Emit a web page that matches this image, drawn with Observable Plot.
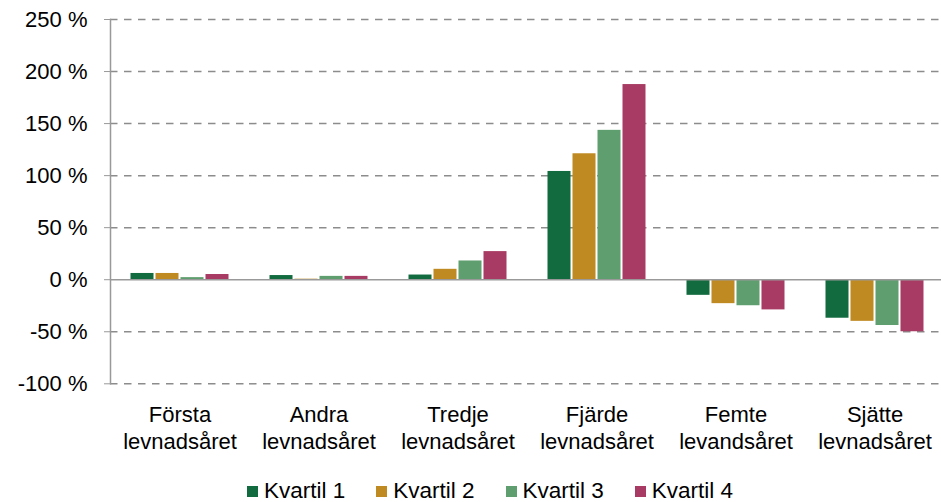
<!DOCTYPE html>
<html>
<head>
<meta charset="utf-8">
<script src="https://cdn.jsdelivr.net/npm/d3@7"></script>
<script src="https://cdn.jsdelivr.net/npm/@observablehq/plot@0.6"></script>
<style>
  html, body { margin: 0; padding: 0; background: #fff; overflow: hidden; }
  body { position: relative; width: 941px; height: 502px; font-family: "Liberation Sans", Arial, sans-serif; }
  #chart svg { display: block; }
  #legend { position: absolute; left: 247px; top: 480px; display: flex; align-items: center; height: 22px; line-height: 22px; font-size: 22.5px; color: #000; white-space: nowrap; }
  .item { display: flex; align-items: center; margin-right: 31px; }
  .sw { width: 11px; height: 11px; margin-right: 6px; }
</style>
</head>
<body>
<div id="chart"></div>
<div id="legend"></div>
<script>
const categories = ["Första\nlevnadsåret", "Andra\nlevnadsåret", "Tredje\nlevnadsåret", "Fjärde\nlevnadsåret", "Femte\nlevandsåret", "Sjätte\nlevnadsåret"];
const quartiles = ["Kvartil 1", "Kvartil 2", "Kvartil 3", "Kvartil 4"];
const kvartil1 = [6, 4, 4.5, 104, -15, -37];
const kvartil2 = [6, 0.5, 10, 121, -23, -40];
const kvartil3 = [2, 3.2, 18, 143.5, -25, -44];
const kvartil4 = [5, 3.2, 27, 187.5, -29, -50];
const yTicks = [-100, -50, 0, 50, 100, 150, 200, 250];
const colors = ["#126b3f", "#c08a23", "#5f9e6e", "#a83b63"];

const series = [kvartil1, kvartil2, kvartil3, kvartil4];
const data = [];
categories.forEach((c, i) => {
  quartiles.forEach((q, j) => data.push({cat: c, q, value: series[j][i]}));
});

const plot = Plot.plot({
  width: 941,
  height: 478,
  marginTop: 19,
  marginBottom: 94.7,
  marginLeft: 107.5,
  marginRight: -6,
  style: {fontFamily: "'Liberation Sans', Arial, sans-serif", fontSize: "22px", color: "#000", background: "#fff"},
  fx: {domain: categories, padding: 0, label: null},
  x: {domain: quartiles, paddingInner: 0.1, paddingOuter: 0.78, axis: null},
  y: {domain: [-100, 250], label: null},
  color: {domain: quartiles, range: colors},
  marks: [
    Plot.gridY(yTicks.filter(d => d !== 0), {stroke: "#8c8c8c", strokeOpacity: 1, strokeWidth: 1.5, strokeDasharray: "7.5,6.5"}),
    Plot.barY(data, {fx: "cat", x: "q", y: "value", fill: "q"}),
    Plot.ruleY([0], {stroke: "#999", strokeWidth: 1.5}),
    Plot.frame({anchor: "left", stroke: "#999", strokeWidth: 1.5, facetAnchor: "left"}),
    Plot.axisY({ticks: yTicks, tickFormat: d => `${d} %`, tickSize: 6, tickPadding: 17, stroke: "#999", fill: "#000", fontSize: 22, label: null}),
    Plot.axisFx({anchor: "bottom", tickSize: 0, tickPadding: 19, fontSize: 22, lineHeight: 1.22, fill: "#000", label: null})
  ]
});
document.getElementById("chart").appendChild(plot);

const legend = document.getElementById("legend");
quartiles.forEach((q, i) => {
  const item = document.createElement("div");
  item.className = "item";
  const sw = document.createElement("div");
  sw.className = "sw";
  sw.style.background = colors[i];
  const t = document.createElement("span");
  t.textContent = q;
  item.appendChild(sw);
  item.appendChild(t);
  legend.appendChild(item);
});
</script>
</body>
</html>
